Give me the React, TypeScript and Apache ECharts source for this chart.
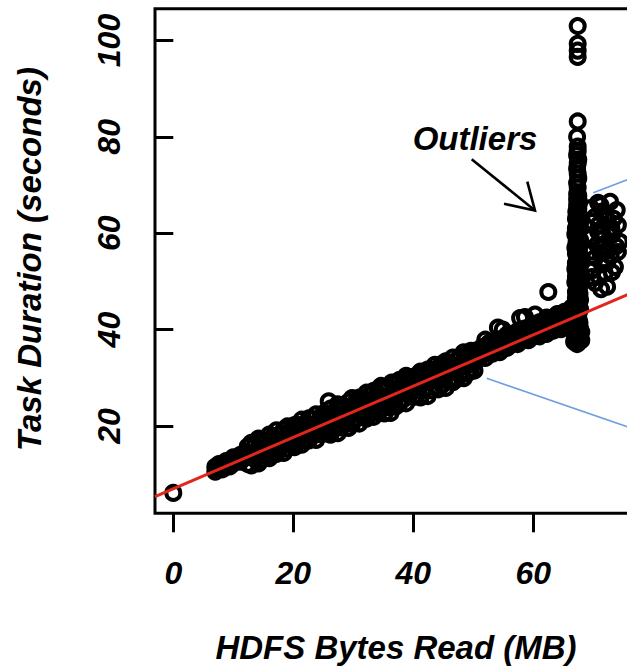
import React, { useEffect, useRef } from "react";
import * as echarts from "echarts";

const xTicks = [0, 20, 40, 60];
const yTicks = [20, 40, 60, 80, 100];

const bandX = [7.0,7.6,8.2,8.8,9.4,10.0,10.6,11.2,11.8,12.4,13.0,13.6,14.2,14.8,15.4,16.0,16.6,17.2,17.8,18.4,19.0,19.6,20.2,20.8,21.4,22.0,22.6,23.2,23.8,24.4,25.0,25.6,26.2,26.8,27.4,28.0,28.6,29.2,29.8,30.4,31.0,31.6,32.2,32.8,33.4,34.0,34.6,35.2,35.8,36.4,37.0,37.6,38.2,38.8,39.4,40.0,40.6,41.2,41.8,42.4,43.0,43.6,44.2,44.8,45.4,46.0,46.6,47.2,47.8,48.4,49.0,49.6,50.2,50.8,51.4,52.0,52.6,53.2,53.8,54.4,55.0,55.6,56.2,56.8,57.4,58.0,58.6,59.2,59.8,60.4,61.0,61.6,62.2,62.8,63.4,64.0,64.6,65.2,65.8,66.4];
const bandUpperY = [11.5,12.1,11.8,12.7,12.7,13.5,13.2,14.0,14.2,
  15.7,16.5,16.0,17.4,17.1,16.8,18.2,17.8,19.1,18.3,19.2,19.9,19.1,20.2,20.2,21.3,20.5,21.6,21.4,22.4,21.4,22.6,
  22.6,23.6,22.8,24.5,24.1,24.0,25.0,25.8,25.0,25.9,25.3,26.9,26.5,27.3,26.8,28.3,28.0,27.8,29.0,28.7,29.5,28.9,30.4,30.1,30.2,
  30.5,31.3,30.7,31.7,31.7,32.7,32.1,32.9,33.4,33.1,34.2,33.6,34.4,35.3,34.8,35.6,35.6,
  35.6,36.3,35.9,37.2,37.1,37.0,38.0,37.9,38.9,38.4,39.1,39.7,39.4,40.2,39.9,41.1,40.9,41.5,41.2,42.5,42.3,42.4,43.2,42.9,43.7,43.8,44.6];
const bandLowerY = [10.5,11.1,11.0,11.7,11.6,12.2,12.8,12.6,13.3,
  12.1,11.8,13.1,12.2,13.1,13.9,13.3,14.2,14.2,15.4,14.4,15.3,16.0,15.6,16.8,16.1,17.0,17.0,18.0,17.1,18.3,18.4,
  18.7,18.2,19.7,18.5,19.7,20.5,19.6,20.4,21.5,20.5,21.8,21.5,23.0,21.9,22.8,23.6,22.6,23.9,24.7,24.0,24.5,25.4,24.7,26.4,26.0,
  26.4,25.9,27.5,26.2,27.4,28.2,27.6,28.5,27.9,29.6,29.1,29.7,30.5,29.9,30.9,31.8,31.5,
  33.8,34.6,34.1,35.1,35.0,36.0,35.3,36.2,36.2,37.1,37.1,37.0,38.1,38.0,37.8,38.9,38.7,38.6,39.4,39.1,39.8,39.8,40.6,40.1,41.0,40.5,41.3];
const bandMidX = [7.3,7.9,8.5,9.1,9.7,10.3,10.9,11.5,12.1,12.7,13.3,13.9,14.5,15.1,15.7,16.3,16.9,17.5,18.1,18.7,19.3,19.9,20.5,21.1,21.7,22.3,22.9,23.5,24.1,24.7,25.3,25.9,26.5,27.1,27.7,28.3,28.9,29.5,30.1,30.7,31.3,31.9,32.5,33.1,33.7,34.3,34.9,35.5,36.1,36.7,37.3,37.9,38.5,39.1,39.7,40.3,40.9,41.5,42.1,42.7,43.3,43.9,44.5,45.1,45.7,46.3,46.9,47.5,48.1,48.7,49.3,49.9,50.5,51.1,51.7,52.3,52.9,53.5,54.1,54.7,55.3,55.9,56.5,57.1,57.7,58.3,58.9,59.5,60.1,60.7,61.3,61.9,62.5,63.1,63.7,64.3,64.9,65.5,66.1,66.7];
const bandMidY = [11.2,11.7,11.7,12.4,12.5,12.8,13.3,13.3,13.8,13.9,13.6,15.0,14.6,15.4,14.7,15.7,16.5,16.0,16.6,17.1,16.7,18.2,17.8,18.6,17.9,18.9,19.7,19.2,19.8,20.3,19.9,21.4,21.0,21.8,21.1,22.1,22.9,22.4,23.0,23.5,23.1,24.5,24.2,25.0,24.3,25.3,26.0,25.6,26.2,26.7,26.3,27.7,27.4,28.2,27.5,28.5,29.2,28.8,29.4,29.9,29.5,30.9,30.5,31.4,30.7,31.7,32.4,31.9,32.6,33.1,32.7,34.1,33.7,35.3,35.0,36.1,35.9,36.4,36.2,37.3,37.1,37.6,37.6,38.5,38.2,39.3,39.1,39.6,39.3,40.5,40.3,40.8,40.8,41.6,41.4,42.5,42.3,42.8,42.5,43.7];

const columnX = [67.3,67.7,67.1,67.5,67.8,67.2,67.6,67.0,67.4,67.8,67.2,67.5,67.1,67.7,67.3,67.6,67.0,67.4,67.8,67.2,67.5,67.1,67.7,67.3,67.6,67.0,67.4,67.8,67.2,67.5,67.1,67.7,67.3,67.6,67.2,67.5,67.3,67.6,67.4,67.3,
  67.6,67.2,67.8,67.0,67.4,67.7,67.1,67.5,67.2,67.6,67.0,67.8,67.4,67.1,67.6,67.3,67.7,67.1,67.5,67.0,67.6,67.3,67.8,67.1,67.4,67.7,67.2,67.5,67.0,67.6,67.3,67.8,67.1,67.5,67.2,67.4,67.6,67.3,67.5,
  66.8,68.0,66.9,68.0,
  67.4,67.3,67.5,67.4,67.3,67.4,67.5,67.3,67.4,67.4,67.3,67.4,67.4,67.4,67.4,67.4];
const columnY = [37.0,37.8,38.6,39.4,40.2,41.0,41.8,42.6,43.4,44.2,45.0,45.8,46.6,47.4,48.2,49.0,49.8,50.6,51.4,52.2,53.0,53.8,54.6,55.4,56.2,57.0,57.8,58.6,59.4,60.2,61.0,61.8,62.6,63.4,64.2,65.0,65.8,66.6,67.4,68.2,
  37.4,38.2,39.0,39.8,40.6,41.4,42.2,43.0,43.8,44.6,45.4,46.2,47.0,47.8,48.6,49.4,50.2,51.0,51.8,52.6,53.4,54.2,55.0,55.8,56.6,57.4,58.2,59.0,59.8,60.6,61.4,62.2,63.0,63.8,64.6,65.4,66.2,67.0,67.8,
  37.5,37.8,39.0,39.5,
  69.5,70.4,71.4,72.4,73.4,74.5,75.3,76.2,77.0,78.0,80.0,83.2,96.6,97.9,99.3,103.0];

const clusterX = [70.8,72.8,73.9,70.3,72.3,74.1,70.8,73.1,74.4,70.6,72.5,74.1,70.3,72.3,73.6,70.0,71.9,69.8,70.3,72.3,71.5,71.6,73.0,71.2,69.6,69.5,
  71.2,72.0,73.4,70.9,72.7,71.5,73.8,71.0,72.9,71.4,73.1,70.9,71.3,69.7,69.8,71.8];
const clusterY = [66.3,66.5,64.8,63.4,62.8,61.7,60.3,59.6,58.2,57.6,56.5,56.1,54.9,54.0,53.0,52.4,51.7,50.9,49.7,48.9,64.5,58.8,61.2,55.8,65.2,59.0,
  65.8,63.9,63.0,61.8,60.6,59.9,57.3,56.9,55.2,53.6,51.9,51.0,48.4,62.4,56.2,57.3];

const outlierX = [0, 62.5, 25.9, 36.2, 52.0, 54.1, 54.9, 57.8, 58.6, 60.3];
const outlierY = [6.1, 47.8, 25.1, 22.7, 37.9, 40.4, 40.0, 42.4, 42.6, 43.1];

const fitLineX = [-3.05, 79.3];
const fitLineY = [5.35, 49.16];

// annotation anchors in data coordinates
const labelAt = [50.28, 79.6];
const arrowTail = [49.73, 75.37];
const arrowTip = [60.28, 64.7];
const arrowBarbA = [55.12, 66.1];
const arrowBarbB = [59.0, 70.7];
const blueLine1 = [[69.99, 68.4], [87.8, 76.8]];
const blueLine2 = [[52.23, 29.9], [87.8, 14.6]];

const FONT = "'Liberation Sans', Arial, Helvetica, sans-serif";
const CHART_W = 700;

export default function App() {
  const ref = useRef<HTMLDivElement>(null);
  useEffect(() => {
    const chart = echarts.init(ref.current!, null, { renderer: "svg" });
    const pts: number[][] = [];
    bandX.forEach((x, i) => {
      pts.push([x, bandUpperY[i]]);
      pts.push([x, bandLowerY[i]]);
    });
    bandMidX.forEach((x, i) => pts.push([x, bandMidY[i]]));
    columnX.forEach((x, i) => pts.push([x, columnY[i]]));
    clusterX.forEach((x, i) => pts.push([x, clusterY[i]]));
    outlierX.forEach((x, i) => pts.push([x, outlierY[i]]));

    const labelStyle = {
      color: "#000",
      fontFamily: FONT,
      fontWeight: "bold" as const,
      fontStyle: "italic" as const,
      fontSize: 32,
    };

    chart.setOption({
      animation: false,
      backgroundColor: "#fff",
      grid: {
        left: 155,
        top: 8.7,
        right: CHART_W - 155 - 494.1,
        bottom: 153.7,
        show: true,
        borderColor: "#000",
        borderWidth: 3,
        backgroundColor: "transparent",
      },
      xAxis: {
        type: "value",
        min: -3.05,
        max: 79.3,
        axisLine: { show: false },
        splitLine: { show: false },
        axisTick: {
          show: true,
          length: 19,
          customValues: xTicks,
          lineStyle: { color: "#000", width: 3 },
        },
        axisLabel: { ...labelStyle, margin: 44, customValues: xTicks },
      },
      yAxis: {
        type: "value",
        min: 1.87,
        max: 106.6,
        axisLine: { show: false },
        splitLine: { show: false },
        axisTick: {
          show: true,
          length: 19,
          customValues: yTicks,
          lineStyle: { color: "#000", width: 3 },
        },
        axisLabel: { ...labelStyle, margin: 30, rotate: 90, customValues: yTicks },
      },
      series: [
        {
          type: "scatter",
          data: pts,
          symbol: "circle",
          symbolSize: 14,
          itemStyle: { color: "rgba(0,0,0,0)", borderColor: "#000", borderWidth: 4, opacity: 1 },
          silent: true,
          z: 2,
        },
        {
          type: "line",
          data: fitLineX.map((x, i) => [x, fitLineY[i]]),
          symbol: "none",
          lineStyle: { color: "#e3261b", width: 3 },
          silent: true,
          z: 3,
        },
      ],
    });

    const px = (p: number[]) => chart.convertToPixel({ gridIndex: 0 }, p) as number[];
    const t = px(labelAt);
    const a0 = px(arrowTail);
    const a1 = px(arrowTip);
    const b0 = px(arrowBarbA);
    const b1 = px(arrowBarbB);
    const l1a = px(blueLine1[0]);
    const l1b = px(blueLine1[1]);
    const l2a = px(blueLine2[0]);
    const l2b = px(blueLine2[1]);
    const blue = { stroke: "#6e9fe0", lineWidth: 1.6 };

    chart.setOption({
      graphic: [
        {
          type: "text",
          x: t[0],
          y: t[1],
          style: {
            text: "Outliers",
            fill: "#000",
            font: `italic bold 33px ${FONT}`,
            textAlign: "center",
            textVerticalAlign: "middle",
          },
          z: 10,
        },
        {
          type: "line",
          shape: { x1: a0[0], y1: a0[1], x2: a1[0], y2: a1[1] },
          style: { stroke: "#000", lineWidth: 2.6 },
          z: 10,
        },
        {
          type: "polyline",
          shape: { points: [b0, a1, b1] },
          style: { stroke: "#000", lineWidth: 2.6, fill: "none" },
          z: 10,
        },
        {
          type: "line",
          shape: { x1: l1a[0], y1: l1a[1], x2: l1b[0], y2: l1b[1] },
          style: blue,
          z: 10,
        },
        {
          type: "line",
          shape: { x1: l2a[0], y1: l2a[1], x2: l2b[0], y2: l2b[1] },
          style: blue,
          z: 10,
        },
        {
          type: "text",
          x: 396,
          y: 647,
          style: {
            text: "HDFS Bytes Read (MB)",
            fill: "#000",
            font: `italic bold 33px ${FONT}`,
            textAlign: "center",
            textVerticalAlign: "middle",
          },
        },
        {
          type: "text",
          x: 29,
          y: 259,
          rotation: Math.PI / 2,
          style: {
            text: "Task Duration (seconds)",
            fill: "#000",
            font: `italic bold 33px ${FONT}`,
            textAlign: "center",
            textVerticalAlign: "middle",
          },
        },
      ],
    });

    return () => chart.dispose();
  }, []);
  return (
    <div
      style={{ position: "fixed", left: 0, top: 0, width: 627, height: 667, overflow: "hidden", background: "#fff" }}
    >
      <div ref={ref} style={{ width: CHART_W, height: 667 }} />
    </div>
  );
}
